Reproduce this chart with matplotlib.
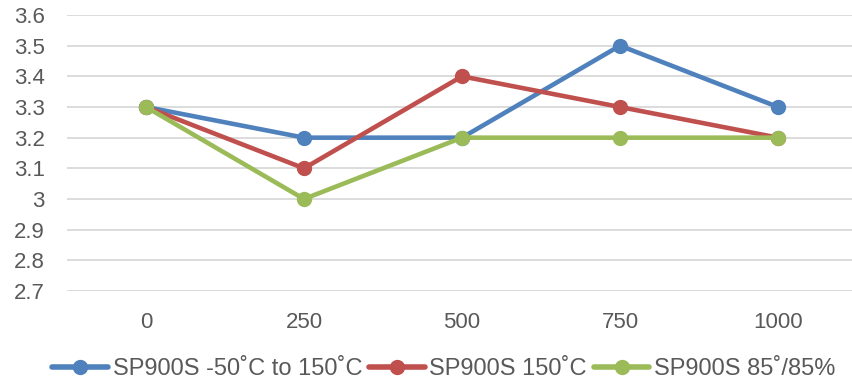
import matplotlib
matplotlib.use("Agg")
import matplotlib.pyplot as plt

categories = ["0", "250", "500", "750", "1000"]
series_names = ["SP900S -50˚C to 150˚C", "SP900S 150˚C", "SP900S 85˚/85%"]
blue_vals = [3.3, 3.2, 3.2, 3.5, 3.3]
red_vals = [3.3, 3.1, 3.4, 3.3, 3.2]
green_vals = [3.3, 3.0, 3.2, 3.2, 3.2]
y_ticks = [2.7, 2.8, 2.9, 3.0, 3.1, 3.2, 3.3, 3.4, 3.5, 3.6]
y_tick_labels = ["2.7", "2.8", "2.9", "3", "3.1", "3.2", "3.3", "3.4", "3.5", "3.6"]

colors = ["#4F81BD", "#C0504D", "#9BBB59"]

plt.rcParams['font.family'] = ['Liberation Sans', 'DejaVu Sans']

fig = plt.figure(figsize=(8.52, 3.85), dpi=100)
ax = fig.add_axes([67/852, 1-291/385, 790/852, (291-15)/385])

x = list(range(len(categories)))
for vals, c, name in zip([blue_vals, red_vals, green_vals], colors, series_names):
    ax.plot(x, vals, color=c, lw=3.3, marker='o', markersize=10, label=name,
            solid_capstyle='round', clip_on=False)

ax.set_xlim(-0.5, 4.5)
ax.set_ylim(2.7, 3.6)
ax.set_yticks(y_ticks)
ax.set_yticklabels(y_tick_labels)
ax.set_xticks(x)
ax.set_xticklabels(categories)
ax.grid(axis='y', color='#D9D9D9', lw=1.3)
ax.set_axisbelow(True)
for s in ax.spines.values():
    s.set_visible(False)
ax.tick_params(axis='both', length=0, labelsize=16, labelcolor='#595959')
ax.tick_params(axis='y', pad=16)
ax.tick_params(axis='x', pad=15)

leg = fig.legend(loc='center', bbox_to_anchor=(444/852, 1-369/385), ncol=3, frameon=False,
                 fontsize=17, handlelength=2.35, columnspacing=0.3, handletextpad=0.2,
                 labelcolor='#595959', borderpad=0, borderaxespad=0)
for h in leg.legend_handles:
    h.set_linewidth(4)

fig.savefig("out.png", dpi=100)
